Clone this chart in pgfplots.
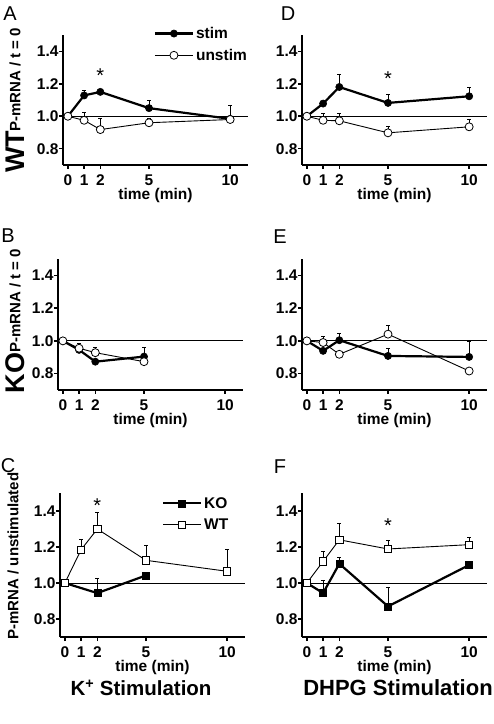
\documentclass[border=0pt]{standalone}
\usepackage{fontspec}
\setmainfont{Liberation Sans}
\usepackage{pgfplots}
\pgfplotsset{compat=1.18}
\pgfplotsset{
  panel/.style={
    scale only axis, width=185pt,
    xmin=-0.3, xmax=11.1, ymin=0.7, ymax=1.5,
    axis x line*=bottom, axis y line*=left,
    axis line style={line width=1.8pt},
    xtick={0,1,2,5,10}, ytick={0.8,1.0,1.2,1.4},
    /pgf/number format/assume math mode=true,
    tick align=outside, major tick length=4pt,
    tick style={line width=1.5pt, black},
    tick label style={font=\fontsize{15.5}{15.5}\selectfont\bfseries},
    xticklabel style={yshift=-2pt},
    yticklabel style={xshift=3pt, /pgf/number format/fixed, /pgf/number format/fixed zerofill, /pgf/number format/precision=1},
    xlabel={time (min)},
    xlabel style={font=\fontsize{15.5}{15.5}\selectfont\bfseries,
      at={(axis description cs:0.5,0)}, anchor=north, inner sep=0pt, yshift=-23pt},
    clip=false,
  },
  stim/.style={black, line width=2.2pt, mark=*, mark size=3.6pt,
    mark options={solid, fill=black, line width=0.6pt},
    error bars/.cd, y dir=plus, y explicit,
    error bar style={line width=0.7pt, black},
    error mark options={rotate=90, mark size=2pt, line width=0.7pt}},
  unstim/.style={black, line width=0.9pt, mark=*, mark size=4pt,
    mark options={solid, fill=white, line width=0.8pt},
    error bars/.cd, y dir=plus, y explicit,
    error bar style={line width=0.7pt, black},
    error mark options={rotate=90, mark size=2pt, line width=0.7pt}},
  ko/.style={black, line width=2.2pt, mark=square*, mark size=3.5pt,
    mark options={solid, fill=black, line width=0.6pt},
    error bars/.cd, y dir=plus, y explicit,
    error bar style={line width=0.7pt, black},
    error mark options={rotate=90, mark size=2pt, line width=0.7pt}},
  wt/.style={black, line width=0.9pt, mark=square*, mark size=3.7pt,
    mark options={solid, fill=white, line width=0.8pt},
    error bars/.cd, y dir=plus, y explicit,
    error bar style={line width=0.7pt, black},
    error mark options={rotate=90, mark size=2pt, line width=0.7pt}},
  refline/.style={black, line width=0.9pt, forget plot},
  mylegend/.style={
    legend image code/.code={\draw[mark repeat=2, mark phase=2, ##1] plot coordinates {(0pt,0pt) (19pt,0pt) (38pt,0pt)};},
    legend style={draw=none, fill=none, font=\fontsize{15.5}{15.5}\selectfont\bfseries,
      row sep=5pt, inner sep=0pt, nodes={inner sep=2pt}},
    legend cell align=left,
  },
}
\begin{document}
\begin{tikzpicture}[x=1pt, y=1pt]
\useasboundingbox (0,0) rectangle (494,724);

% ---------- Panel A ----------
\begin{axis}[panel, height=130pt, at={(63pt,559pt)}, anchor=south west, mylegend,
  legend style={at={(rel axis cs:0.49,1.077)}, anchor=north west}]
\addplot[stim] coordinates {(0,1.0) +- (0,0) (1,1.128) +- (0,0.032) (2,1.15) +- (0,0.01) (5,1.05) +- (0,0.048) (10,0.984) +- (0,0.086)};
\addlegendentry{stim}
\addplot[unstim] coordinates {(0,1.0) +- (0,0) (1,0.975) +- (0,0.05) (2,0.918) +- (0,0.066) (5,0.96) +- (0,0.03) (10,0.98) +- (0,0.0)};
\addlegendentry{unstim}
\addplot[refline] coordinates {(-0.3,1) (11.1,1)};
\node[font=\fontsize{20}{20}\selectfont] at (axis cs:2,1.25) {*};
\end{axis}

% ---------- Panel D ----------
\begin{axis}[panel, height=130pt, at={(302pt,559pt)}, anchor=south west]
\addplot[stim] coordinates {(0,1.0) +- (0,0) (1,1.078) +- (0,0.01) (2,1.18) +- (0,0.076) (5,1.082) +- (0,0.053) (10,1.123) +- (0,0.053)};
\addplot[unstim] coordinates {(0,1.0) +- (0,0) (1,0.975) +- (0,0.041) (2,0.972) +- (0,0.048) (5,0.898) +- (0,0.042) (10,0.935) +- (0,0.045)};
\addplot[refline] coordinates {(-0.3,1) (11.1,1)};
\node[font=\fontsize{20}{20}\selectfont] at (axis cs:5,1.23) {*};
\end{axis}

% ---------- Panel B ----------
\begin{axis}[panel, height=131pt, at={(58pt,334pt)}, anchor=south west]
\addplot[stim] coordinates {(0,1.0) +- (0,0) (1,0.945) +- (0,0.04) (2,0.873) +- (0,0.0) (5,0.904) +- (0,0.056)};
\addplot[unstim] coordinates {(0,1.0) +- (0,0) (1,0.955) +- (0,0.03) (2,0.928) +- (0,0.032) (5,0.873) +- (0,0)};
\addplot[refline] coordinates {(-0.3,1) (11.1,1)};
\end{axis}

% ---------- Panel E ----------
\begin{axis}[panel, height=131pt, at={(302pt,334pt)}, anchor=south west]
\addplot[stim] coordinates {(0,1.0) +- (0,0) (1,0.939) +- (0,0) (2,1.004) +- (0,0.041) (5,0.908) +- (0,0.045) (10,0.902) +- (0,0.098)};
\addplot[unstim] coordinates {(0,1.0) +- (0,0) (1,0.99) +- (0,0.04) (2,0.918) +- (0,0) (5,1.041) +- (0,0.051) (10,0.816) +- (0,0)};
\addplot[refline] coordinates {(-0.3,1) (11.1,1)};
\end{axis}

% ---------- Panel C ----------
\begin{axis}[panel, height=144pt, at={(60pt,87pt)}, anchor=south west, mylegend,
  legend style={at={(rel axis cs:0.55,0.986)}, anchor=north west}]
\addplot[ko] coordinates {(0,1.0) +- (0,0) (2,0.944) +- (0,0.08) (5,1.042) +- (0,0)};
\addlegendentry{KO}
\addplot[wt] coordinates {(0,1.0) +- (0,0) (1,1.185) +- (0,0.059) (2,1.30) +- (0,0.092) (5,1.126) +- (0,0.083) (10,1.065) +- (0,0.124)};
\addlegendentry{WT}
\addplot[refline] coordinates {(-0.3,1) (11.1,1)};
\node[font=\fontsize{20}{20}\selectfont] at (axis cs:2,1.43) {*};
\end{axis}

% ---------- Panel F ----------
\begin{axis}[panel, height=144pt, at={(302pt,87pt)}, anchor=south west]
\addplot[ko] coordinates {(0,1.0) +- (0,0) (1,0.944) +- (0,0.071) (2,1.107) +- (0,0.035) (5,0.87) +- (0,0.106) (10,1.10) +- (0,0)};
\addplot[wt] coordinates {(0,1.0) +- (0,0) (1,1.12) +- (0,0.056) (2,1.24) +- (0,0.093) (5,1.189) +- (0,0.048) (10,1.213) +- (0,0.043)};
\addplot[refline] coordinates {(-0.3,1) (11.1,1)};
\node[font=\fontsize{20}{20}\selectfont] at (axis cs:5,1.32) {*};
\end{axis}

% ---------- Panel letters ----------
\begin{scope}[every node/.style={font=\fontsize{20}{20}\selectfont, inner sep=0pt}]
\node at (10,710) {A};
\node at (288,710) {D};
\node at (8,488) {B};
\node at (280,487) {E};
\node at (8,258) {C};
\node at (280,257) {F};
\end{scope}

% ---------- Y labels ----------
\node[rotate=90, inner sep=0pt, font=\fontsize{27}{27}\selectfont\bfseries] at (15,572) {WT};
\node[rotate=90, inner sep=0pt, font=\fontsize{15}{15}\selectfont\bfseries] at (15,644) {P-mRNA / t = 0};
\node[rotate=90, inner sep=0pt, font=\fontsize{27}{27}\selectfont\bfseries] at (15,351) {KO};
\node[rotate=90, inner sep=0pt, font=\fontsize{15}{15}\selectfont\bfseries] at (15,423) {P-mRNA / t = 0};
\node[rotate=90, inner sep=0pt, font=\fontsize{15}{15}\selectfont\bfseries] at (13,168) {P-mRNA / unstimulated};

% ---------- Titles ----------
\node[font=\fontsize{20.5}{20.5}\selectfont\bfseries] at (141,36) {K\textsuperscript{+} Stimulation};
\node[font=\fontsize{22}{22}\selectfont\bfseries] at (398,36) {DHPG Stimulation};
\end{tikzpicture}
\end{document}
